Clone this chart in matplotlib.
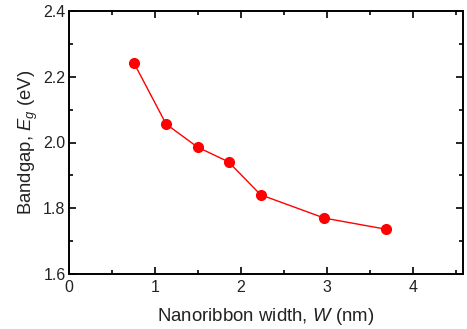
import matplotlib
matplotlib.use("Agg")
import matplotlib.pyplot as plt
from matplotlib.ticker import MultipleLocator, FormatStrFormatter

width_nm = [0.757, 1.129, 1.494, 1.855, 2.227, 2.969, 3.69]
bandgap_ev = [2.241, 2.056, 1.986, 1.941, 1.841, 1.770, 1.736]

plt.rcParams['font.family'] = ['Liberation Sans', 'DejaVu Sans']
plt.rcParams['mathtext.fontset'] = 'custom'
plt.rcParams['mathtext.it'] = 'Liberation Sans:italic'
plt.rcParams['mathtext.rm'] = 'Liberation Sans'

fig = plt.figure(figsize=(4.67, 3.29), dpi=100)
ax = fig.add_axes([69/467, 1-274/329, (463-69)/467, (274-11)/329])
ax.plot(width_nm, bandgap_ev, color='#ff0000', lw=1.0, marker='o', ms=7,
        markerfacecolor='#ff0000', markeredgecolor='#ff0000')
ax.set_xlim(0, 4.58)
ax.set_ylim(1.6, 2.4)
ax.xaxis.set_major_locator(MultipleLocator(1))
ax.xaxis.set_minor_locator(MultipleLocator(0.5))
ax.yaxis.set_major_locator(MultipleLocator(0.2))
ax.yaxis.set_minor_locator(MultipleLocator(0.1))
ax.yaxis.set_major_formatter(FormatStrFormatter('%.1f'))
ax.tick_params(which='both', direction='in', top=True, right=True, labelsize=11.5,
               width=1.2, color='black', labelcolor='#222222')
ax.tick_params(which='major', length=5)
ax.tick_params(axis='y', which='major', pad=2.5)
ax.tick_params(axis='x', which='major', pad=4)
ax.tick_params(which='minor', length=3)
for s in ax.spines.values():
    s.set_linewidth(1.4)
ax.set_xlabel('Nanoribbon width, $W$ (nm)', fontsize=13.4, labelpad=8, color='#222222')
ax.set_ylabel('Bandgap, $E_g$ (eV)', fontsize=13.3, labelpad=2, color='#222222')
fig.savefig('out.png', dpi=100)
